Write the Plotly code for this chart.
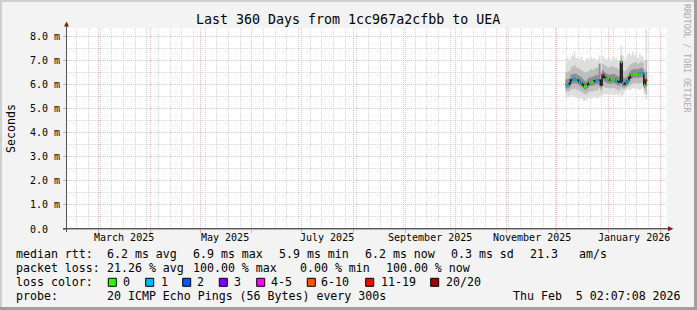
import plotly.graph_objects as go
from datetime import datetime, timedelta

# ---------------- data ----------------
title_text = "Last 360 Days from 1cc967a2cfbb to UEA"
range_start = "2025-02-10 02:07:08"
range_end = "2026-02-05 02:07:08"
data_start = "2025-12-06 04:00:00"
step_days = 1

median_ms = [5.98, 5.99, 6.03, 6.18, 6.20, 6.21, 6.19, 6.17, 6.11, 6.06,
             6.00, 5.93, 5.94, 6.01, 6.08, 6.09, 6.10, 6.14, 6.16, 6.17,
             6.17, 5.97, 6.41, 6.30, 6.24, 6.20, 6.18, 6.20, 6.21, 6.20,
             6.15, 6.12, 6.10, 6.92, 6.05, 6.02, 6.08, 6.15, 6.28, 6.40,
             6.42, 6.43, 6.44, 6.42, 6.46, 6.47, 6.46, 5.98, 6.17]

loss_bucket = [1, 1, None, None, 1, 1, 1, None, 1, 1,
               None, 0, 0, None, 0, 0, 0, None, 1, 1,
               None, None, 4, None, 0, 0, None, 0, 0, 0,
               1, None, None, 0, 1, None, 1, 1, None, 0,
               0, 0, 0, 0, 0, 1, 1, 0, 6]

smoke_max = [7.05, 7.10, 7.00, 7.15, 7.20, 7.38, 7.10, 7.10, 7.05, 7.15,
             7.00, 6.95, 7.05, 7.10, 7.00, 7.15, 7.05, 7.10, 7.00, 7.05,
             7.20, 6.90, 7.20, 7.10, 7.00, 7.05, 7.10, 7.00, 7.15, 7.05,
             7.10, 7.00, 6.95, 7.60, 7.20, 7.00, 7.10, 7.25, 7.30, 7.20,
             7.35, 7.20, 7.30, 7.10, 7.25, 7.20, 7.15, 7.00, 8.30]
smoke_p90 = [6.50, 6.55, 6.55, 6.70, 6.75, 6.80, 6.70, 6.70, 6.65, 6.60,
             6.55, 6.50, 6.50, 6.55, 6.60, 6.65, 6.60, 6.65, 6.70, 6.70,
             6.90, 6.50, 6.85, 6.80, 6.75, 6.70, 6.70, 6.75, 6.75, 6.70,
             6.70, 6.65, 6.60, 7.20, 6.60, 6.55, 6.60, 6.70, 6.80, 6.85,
             6.90, 6.90, 6.95, 6.85, 6.90, 6.95, 6.90, 6.60, 7.00]
smoke_p75 = [6.20, 6.22, 6.25, 6.40, 6.42, 6.45, 6.42, 6.40, 6.35, 6.30,
             6.22, 6.15, 6.15, 6.22, 6.30, 6.30, 6.32, 6.36, 6.38, 6.40,
             6.85, 6.20, 6.60, 6.50, 6.45, 6.42, 6.40, 6.42, 6.43, 6.42,
             6.38, 6.35, 6.32, 7.00, 6.30, 6.25, 6.30, 6.38, 6.50, 6.60,
             6.62, 6.63, 6.65, 6.62, 6.66, 6.68, 6.66, 6.30, 6.50]
smoke_p25 = [5.83, 5.84, 5.88, 6.02, 6.04, 6.05, 6.03, 6.01, 5.95, 5.90,
             5.84, 5.78, 5.78, 5.85, 5.92, 5.93, 5.94, 5.98, 6.00, 6.01,
             5.95, 5.82, 6.20, 6.12, 6.08, 6.04, 6.02, 6.04, 6.05, 6.04,
             5.99, 5.96, 5.94, 6.30, 5.90, 5.88, 5.93, 6.00, 6.12, 6.24,
             6.26, 6.27, 6.28, 6.26, 6.30, 6.30, 6.30, 5.84, 5.95]
smoke_p10 = [5.70, 5.70, 5.72, 5.80, 5.80, 5.82, 5.80, 5.78, 5.72, 5.70,
             5.65, 5.60, 5.60, 5.66, 5.70, 5.72, 5.72, 5.75, 5.75, 5.78,
             5.85, 5.70, 5.90, 5.88, 5.85, 5.85, 5.82, 5.85, 5.86, 5.85,
             5.80, 5.78, 5.75, 5.85, 5.80, 5.82, 5.86, 5.90, 5.95, 6.00,
             6.02, 6.05, 6.05, 6.03, 6.05, 6.05, 6.05, 5.75, 5.60]
smoke_min = [5.45, 5.45, 5.50, 5.55, 5.50, 5.50, 5.45, 5.45, 5.40, 5.45,
             5.35, 5.30, 5.35, 5.40, 5.45, 5.40, 5.45, 5.50, 5.40, 5.45,
             5.50, 5.45, 5.55, 5.60, 5.55, 5.60, 5.55, 5.60, 5.60, 5.55,
             5.60, 5.50, 5.60, 5.50, 5.55, 5.70, 5.75, 5.80, 5.75, 5.80,
             5.85, 5.80, 5.85, 5.80, 5.75, 5.80, 5.85, 5.60, 5.35]

y_tick_values = [0, 1, 2, 3, 4, 5, 6, 7, 8]
y_tick_labels = ["0.0", "1.0 m", "2.0 m", "3.0 m", "4.0 m", "5.0 m", "6.0 m", "7.0 m", "8.0 m"]
y_max = 8.34

month_labels = ["March 2025", "May 2025", "July 2025", "September 2025", "November 2025", "January 2026"]
month_label_dates = ["2025-03-16", "2025-05-16", "2025-07-16", "2025-09-16", "2025-11-16", "2026-01-16"]

loss_labels = ["0", "1", "2", "3", "4-5", "6-10", "11-19", "20/20"]
loss_colors = ["#26ff00", "#00b8ff", "#0059ff", "#7e00ff", "#ff00ff", "#ff5500", "#ff0000", "#a00000"]

rtt_stats = ["6.2 ms avg", "6.9 ms max", "5.9 ms min", "6.2 ms now", "0.3 ms sd", "21.3", "am/s"]
loss_stats = ["21.26 % avg", "100.00 % max", "0.00 % min", "100.00 % now"]
probe_text = "20 ICMP Echo Pings (56 Bytes) every 300s"
timestamp_text = "Thu Feb\u00a0\u00a05 02:07:08 2026"
y_title = "Seconds"
credit_text = "RRDTOOL / TOBI OETIKER"

n = len(median_ms)
for arr in (loss_bucket, smoke_max, smoke_p90, smoke_p75, smoke_p25, smoke_p10, smoke_min):
    assert len(arr) == n

# ---------------- geometry ----------------
W, H = 697, 310
PL, PR = 67, 667
PT, PB = 28, 229
FONT = "DejaVu Sans Mono"


def px_x(p):
    return (p - PL) / (PR - PL)


def px_y(p):
    return (PB - p) / (PB - PT)


t0 = datetime.strptime(data_start, "%Y-%m-%d %H:%M:%S")
edges = [t0 + timedelta(days=step_days * i) for i in range(n + 1)]


def ext(a):
    return list(a) + [a[-1]]


fig = go.Figure()

bands = [
    (smoke_min, smoke_max, "#dedede"),
    (smoke_p10, smoke_p90, "#bdbdbd"),
    (smoke_p25, smoke_p75, "#8e8e8e"),
]
for lo, hi, col in bands:
    fig.add_trace(go.Scatter(x=edges, y=ext(lo), mode="lines", line=dict(width=0, shape="hv"),
                             hoverinfo="skip", showlegend=False))
    fig.add_trace(go.Scatter(x=edges, y=ext(hi), mode="lines", line=dict(width=0, shape="hv"),
                             fill="tonexty", fillcolor=col, hoverinfo="skip", showlegend=False))

# median base line
fig.add_trace(go.Scatter(x=edges, y=ext(median_ms), mode="lines",
                         line=dict(color="#1a1a1a", width=1.5, shape="hv"),
                         hoverinfo="skip", showlegend=False))

# loss coloured median segments
for b, col in enumerate(loss_colors):
    xs, ys = [], []
    for i in range(n):
        if loss_bucket[i] == b:
            xs += [edges[i], edges[i + 1], None]
            ys += [median_ms[i], median_ms[i], None]
    if xs:
        fig.add_trace(go.Scatter(x=xs, y=ys, mode="lines", line=dict(color=col, width=2.2),
                                 hoverinfo="skip", showlegend=False))

annotations = []


def txt(xp, yp, s, size=11.6, anchor="left", color="#000000", angle=0):
    annotations.append(dict(x=px_x(xp), y=px_y(yp), xref="paper", yref="paper", text=s,
                            showarrow=False, xanchor=anchor, yanchor="middle", textangle=angle,
                            font=dict(family=FONT, size=size, color=color),
                            borderpad=0, borderwidth=0))


txt(348, 20, title_text, size=13.3, anchor="center")
txt(10.5, 128.5, y_title, anchor="center", angle=-90)
txt(687.5, 58.5, credit_text, size=8.2, anchor="center", color="#ababab", angle=90)

# y tick labels
for v, lab in zip(y_tick_values, y_tick_labels):
    annotations.append(dict(x=px_x(30), y=v, xref="paper", yref="y", text=lab, showarrow=False,
                            xanchor="left", yanchor="middle",
                            font=dict(family=FONT, size=10, color="#000000"),
                            borderpad=0, borderwidth=0))
# month labels
for d, lab in zip(month_label_dates, month_labels):
    annotations.append(dict(x=d, y=px_y(238), xref="x", yref="paper", text=lab, showarrow=False,
                            xanchor="center", yanchor="middle",
                            font=dict(family=FONT, size=10, color="#000000"),
                            borderpad=0, borderwidth=0))

# legend rows
row_y = [254.3, 268.3, 282.3, 296.2]
txt(16, row_y[0], "median rtt:")
for xp, s in zip([107.3, 193.3, 279.3, 365, 451, 530, 579.3], rtt_stats):
    txt(xp, row_y[0], s)
txt(16, row_y[1], "packet loss:")
for xp, s in zip([107.3, 193.3, 300, 386], loss_stats):
    txt(xp, row_y[1], s)
txt(16, row_y[2], "loss color:")
box_x = [108.3, 145.7, 182.7, 219.3, 256.7, 307.3, 365.7, 430.7]
label_x = [123.3, 160.7, 197.3, 234, 270.7, 320.7, 380.7, 445.7]
shapes = []
for bx, lx, lab, col in zip(box_x, label_x, loss_labels, loss_colors):
    txt(lx, row_y[2], lab)
    shapes.append(dict(type="rect", xref="paper", yref="paper",
                       x0=px_x(bx), x1=px_x(bx + 8), y0=px_y(row_y[2] + 4), y1=px_y(row_y[2] - 4),
                       fillcolor=col, line=dict(color="#000000", width=1)))
txt(16, row_y[3], "probe:")
txt(107.3, row_y[3], probe_text)
txt(513.3, row_y[3], timestamp_text)

# frame borders
shade_a, shade_b = "#cfcfcf", "#9e9e9e"
shapes += [
    dict(type="rect", xref="paper", yref="paper", x0=px_x(0), x1=px_x(W), y0=px_y(2), y1=px_y(0),
         fillcolor=shade_a, line=dict(width=0)),
    dict(type="rect", xref="paper", yref="paper", x0=px_x(0), x1=px_x(2), y0=px_y(H), y1=px_y(0),
         fillcolor=shade_a, line=dict(width=0)),
    dict(type="rect", xref="paper", yref="paper", x0=px_x(W - 3), x1=px_x(W), y0=px_y(H), y1=px_y(0),
         fillcolor=shade_b, line=dict(width=0)),
    dict(type="rect", xref="paper", yref="paper", x0=px_x(0), x1=px_x(W), y0=px_y(H), y1=px_y(H - 3),
         fillcolor=shade_b, line=dict(width=0)),
]
# axes lines and arrows
shapes += [
    dict(type="line", xref="paper", yref="paper", x0=px_x(63), x1=px_x(669), y0=px_y(228.8), y1=px_y(228.8),
         line=dict(color="#111111", width=1)),
    dict(type="line", xref="paper", yref="paper", x0=px_x(66.5), x1=px_x(66.5), y0=px_y(232), y1=px_y(25),
         line=dict(color="#555555", width=1)),
    dict(type="path", xref="paper", yref="paper",
         path="M {},{} L {},{} L {},{} Z".format(px_x(64), px_y(26.5), px_x(69), px_y(26.5), px_x(66.5), px_y(21.5)),
         fillcolor="#8b1a1a", line=dict(width=0)),
    dict(type="path", xref="paper", yref="paper",
         path="M {},{} L {},{} L {},{} Z".format(px_x(668), px_y(226.3), px_x(668), px_y(231.3), px_x(673.5), px_y(228.8)),
         fillcolor="#8b1a1a", line=dict(width=0)),
]

fig.update_layout(
    width=W, height=H,
    margin=dict(l=PL, r=W - PR, t=PT, b=H - PB, pad=0),
    paper_bgcolor="#f3f3f3", plot_bgcolor="#ffffff",
    showlegend=False,
    annotations=annotations, shapes=shapes,
    xaxis=dict(type="date", range=[range_start, range_end], showticklabels=False,
               tick0="2025-01-01", dtick="M1", ticks="outside", ticklen=3, tickcolor="#f0a0a0",
               showgrid=True, gridcolor="#f4b8b8", gridwidth=1, griddash="1px,1px",
               minor=dict(dtick=7 * 86400000, tick0="2025-02-16", showgrid=True,
                          gridcolor="#d6d6d6", griddash="1px,1px", ticks=""),
               zeroline=False, showline=False, fixedrange=True),
    yaxis=dict(range=[0, y_max], tickvals=y_tick_values, showticklabels=False,
               ticks="outside", ticklen=3, tickcolor="#f0a0a0",
               showgrid=True, gridcolor="#f4b8b8", gridwidth=1, griddash="1px,1px",
               minor=dict(dtick=0.5, tick0=0, showgrid=True, gridcolor="#d6d6d6", griddash="1px,1px"),
               zeroline=False, showline=False, fixedrange=True),
)

fig.write_html("out.html")
